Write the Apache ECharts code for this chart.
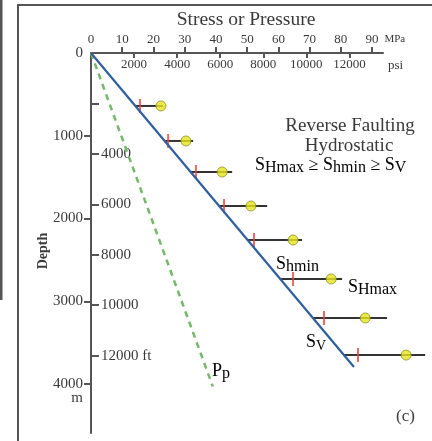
<!DOCTYPE html>
<html>
<head>
<meta charset="utf-8">
<script src="https://cdn.jsdelivr.net/npm/echarts@6/dist/echarts.min.js"></script>
<style>
  html, body { margin: 0; padding: 0; background: #fff; }
  #chart { width: 432px; height: 441px; }
</style>
</head>
<body>
<div id="chart"></div>
<script>
// Depths of the horizontal-stress estimates (m)
const depths = [640, 1063, 1438, 1849, 2260, 2731, 3202, 3650];
// Each bar starts at the vertical stress for its depth (MPa)
const barStart = [14.2, 23.6, 31.9, 41.0, 50.1, 60.6, 71.1, 81.0];
// Minimum horizontal stress, red ticks (MPa)
const shmin = [15.7, 24.7, 33.6, 42.6, 52.2, 64.7, 74.6, 85.5];
// Maximum horizontal stress, yellow dots (MPa)
const sHmax = [22.4, 30.4, 42.0, 51.2, 64.7, 76.9, 87.8, 100.9];
// Right end of each bar (MPa)
const barEnd = [23.1, 32.7, 45.2, 56.4, 67.6, 80.4, 94.8, 107.0];

// Vertical stress and hydrostatic pore pressure lines: [MPa, m]
const svLine = [[0, 0], [84.2, 3795]];
const ppLine = [[0, 0], [39.0, 4030]];

// Axis ticks
const mpaTicks = [0, 10, 20, 30, 40, 50, 60, 70, 80, 90];
const psiTicks = [2000, 4000, 6000, 8000, 10000, 12000];
const meterTicks = [0, 1000, 2000, 3000, 4000];
const feetTicks = [2000, 4000, 6000, 8000, 10000, 12000];
const feetLabels = [4000, 6000, 8000, 10000, 12000];

const MPA_MAX = 93.5;
const PSI_PER_MPA = 145.0377;
const DEPTH_MAX = 4592;
const FT_PER_M = 3.28084;

const serif = "'Liberation Serif', 'DejaVu Serif', serif";
const ink = '#3a3a3a';
const axisGray = '#555';

const chart = echarts.init(document.getElementById('chart'), null, { renderer: 'canvas' });

const subRich = (big, small, drop) => ({
  s: { fontFamily: serif, fontSize: big, color: ink, verticalAlign: 'bottom', padding: [0, 0, drop, 0] },
  b: { fontFamily: serif, fontSize: small, color: ink, verticalAlign: 'bottom' },
  t: { fontFamily: serif, fontSize: big, color: ink, verticalAlign: 'bottom', padding: [0, 0, drop, 0] }
});

function labelText(x, y, text, size, align) {
  return {
    type: 'text', x: x, y: y,
    style: {
      text: text, font: size + 'px ' + serif, fill: ink,
      align: align || 'left', verticalAlign: 'middle'
    }
  };
}
function richText(x, y, text, big, small, drop) {
  return {
    type: 'text', x: x, y: y,
    style: { text: text, rich: subRich(big, small, drop), align: 'left', verticalAlign: 'middle' }
  };
}

const plain = v => String(v);

const option = {
  animation: false,
  backgroundColor: '#fff',
  grid: { left: 91, top: 53, width: 292, height: 380, containLabel: false },
  xAxis: [
    {
      type: 'value', position: 'top', min: 0, max: MPA_MAX,
      splitLine: { show: false },
      axisLine: { show: true, lineStyle: { color: axisGray, width: 2 } },
      axisTick: { show: true, customValues: mpaTicks.slice(1), length: 6, lineStyle: { color: axisGray, width: 2 } },
      axisLabel: { customValues: mpaTicks, margin: 7, fontFamily: serif, fontSize: 13, color: ink, formatter: plain },
      name: 'MPa', nameLocation: 'end', nameGap: -7,
      nameTextStyle: { fontFamily: serif, fontSize: 11, color: ink, verticalAlign: 'bottom', align: 'left', padding: [0, 0, 8, 0] }
    },
    {
      type: 'value', position: 'top', min: 0, max: MPA_MAX * PSI_PER_MPA,
      splitLine: { show: false },
      axisLine: { show: false },
      axisTick: { show: true, inside: true, customValues: psiTicks, length: 5, lineStyle: { color: axisGray, width: 2 } },
      axisLabel: { inside: true, customValues: psiTicks, margin: 5, fontFamily: serif, fontSize: 13, color: ink, formatter: plain },
      name: 'psi', nameLocation: 'end', nameGap: 5,
      nameTextStyle: { fontFamily: serif, fontSize: 13, color: ink, verticalAlign: 'top', align: 'left', padding: [6, 0, 0, 0] }
    }
  ],
  yAxis: [
    {
      type: 'value', inverse: true, position: 'left', min: 0, max: DEPTH_MAX,
      splitLine: { show: false },
      axisLine: { show: true, lineStyle: { color: axisGray, width: 2 } },
      axisTick: { show: true, customValues: meterTicks.slice(1), length: 7, lineStyle: { color: axisGray, width: 2 } },
      axisLabel: {
        customValues: meterTicks, margin: 8, fontFamily: serif, fontSize: 15, color: ink, lineHeight: 14,
        formatter: v => (v === 4000 ? ' \n4000\nm' : String(v))
      }
    },
    {
      type: 'value', inverse: true, position: 'left', min: 0, max: DEPTH_MAX * FT_PER_M,
      splitLine: { show: false },
      axisLine: { show: false },
      axisTick: { show: true, inside: true, customValues: feetTicks, length: 8, lineStyle: { color: axisGray, width: 2 } },
      axisLabel: {
        inside: true, customValues: feetLabels, margin: 10, fontFamily: serif, fontSize: 15, color: ink,
        formatter: v => (v === 12000 ? '12000 ft' : String(v))
      }
    }
  ],
  graphic: [
    // panel frame
    { type: 'rect', shape: { x: 18, y: 5, width: 600, height: 600 }, style: { fill: 'none', stroke: axisGray, lineWidth: 2 } },
    { type: 'rect', shape: { x: 0, y: 0, width: 2.5, height: 300 }, style: { fill: axisGray } },
    labelText(246, 20, 'Stress or Pressure', 19.5, 'center'),
    labelText(350, 126, 'Reverse Faulting', 19, 'center'),
    labelText(349, 146, 'Hydrostatic', 19, 'center'),
    richText(255, 166, '{s|S}{b|Hmax}{t| ≥ S}{b|hmin}{t| ≥ S}{b|V}', 18, 16, 2),
    richText(276, 265, '{s|S}{b|hmin}', 18, 16, 2),
    richText(348, 288, '{s|S}{b|Hmax}', 18, 16, 2),
    richText(306, 343, '{s|S}{b|V}', 18, 14, 2),
    richText(212, 372, '{s|P}{b|p}', 18, 16, 2),
    labelText(396, 417, '(c)', 17, 'left'),
    {
      type: 'text', x: 43, y: 251, rotation: Math.PI / 2,
      style: { text: 'Depth', font: 'bold 14px ' + serif, fill: ink, align: 'center', verticalAlign: 'middle' }
    }
  ],
  series: [
    {
      name: 'Pp', type: 'line', xAxisIndex: 0, yAxisIndex: 0, data: ppLine,
      symbol: 'none', clip: false,
      lineStyle: { color: '#74b86a', width: 2.5, type: [6, 5] }
    },
    {
      name: 'Sv', type: 'line', xAxisIndex: 0, yAxisIndex: 0, data: svLine,
      symbol: 'none', clip: false,
      lineStyle: { color: '#2f5f9f', width: 2.2 }
    },
    {
      name: 'range', type: 'custom', xAxisIndex: 0, yAxisIndex: 0,
      data: depths.map((d, i) => [barStart[i], barEnd[i], d]),
      renderItem: (params, api) => {
        const a = api.coord([api.value(0), api.value(2)]);
        const b = api.coord([api.value(1), api.value(2)]);
        return {
          type: 'line',
          shape: { x1: a[0], y1: a[1], x2: b[0], y2: b[1] },
          style: { stroke: '#333', lineWidth: 2 }
        };
      }
    },
    {
      name: 'Shmin', type: 'scatter', xAxisIndex: 0, yAxisIndex: 0,
      data: shmin.map((v, i) => [v, depths[i]]),
      symbol: 'rect', symbolSize: [2, 14], clip: false,
      itemStyle: { color: '#e5433a' }
    },
    {
      name: 'SHmax', type: 'scatter', xAxisIndex: 0, yAxisIndex: 0,
      data: sHmax.map((v, i) => [v, depths[i]]),
      symbol: 'circle', symbolSize: 10, clip: false,
      itemStyle: { color: '#e6e51e', borderColor: '#8f8f2a', borderWidth: 1 }
    }
  ]
};

chart.setOption(option);
</script>
</body>
</html>
